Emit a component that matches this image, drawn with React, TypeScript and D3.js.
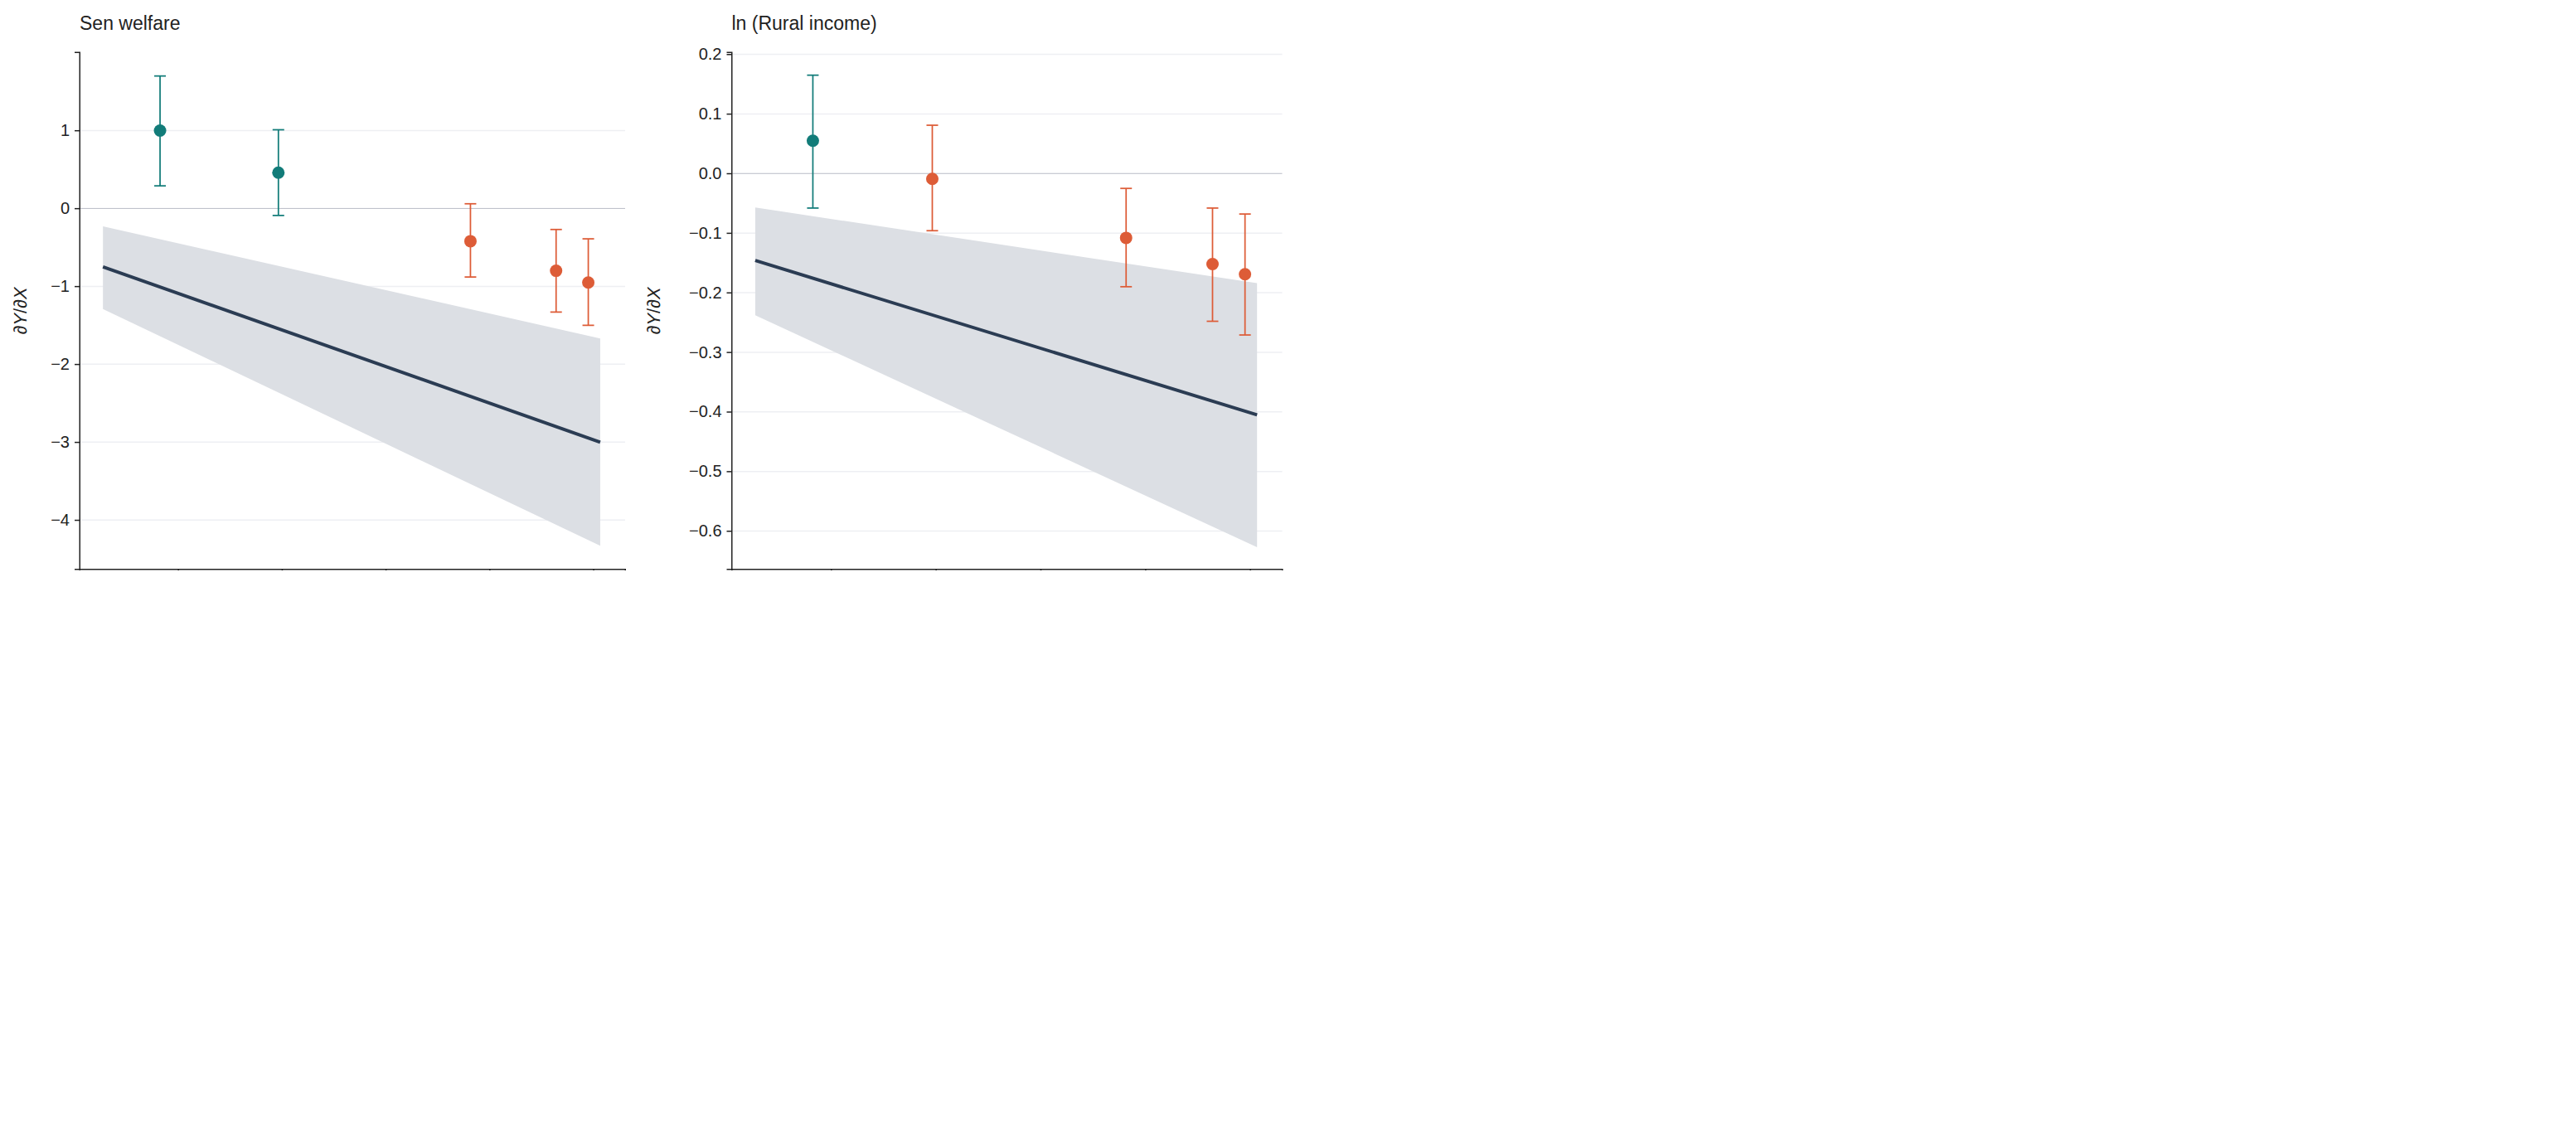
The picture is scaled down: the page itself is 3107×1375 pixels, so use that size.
import { useEffect, useRef } from "react";
import * as d3 from "d3";

// Point estimates per group (x = DFIIC sub-index Q)
const pointX = [36.5, 59.3, 96.3, 112.8, 119.0];

const senValue = [1.0, 0.46, -0.42, -0.8, -0.95];
const senLow = [0.29, -0.09, -0.88, -1.33, -1.5];
const senHigh = [1.7, 1.01, 0.06, -0.27, -0.39];
const senGroup = ["teal", "teal", "orange", "orange", "orange"];

const incValue = [0.055, -0.009, -0.108, -0.152, -0.169];
const incLow = [-0.058, -0.096, -0.19, -0.248, -0.271];
const incHigh = [0.165, 0.081, -0.025, -0.058, -0.068];
const incGroup = ["teal", "orange", "orange", "orange", "orange"];

// Marginal effect line and confidence band
const lineX = [25.5, 121.3];
const senLine = [-0.75, -3.0];
const senBandUp = [-0.23, -1.67];
const senBandLo = [-1.29, -4.33];
const incLine = [-0.146, -0.405];
const incBandUp = [-0.057, -0.184];
const incBandLo = [-0.238, -0.627];

const xTicks = [40, 60, 80, 100, 120];
const senTicks = [1, 0, -1, -2, -3, -4];
const incTicks = [0.2, 0.1, 0, -0.1, -0.2, -0.3, -0.4, -0.5, -0.6];

const colors: Record<string, string> = { teal: "#127c79", orange: "#dd5c37" };
const FONT = "'Liberation Sans', Arial, sans-serif";

interface Panel {
  left: number;
  right: number;
  title: string;
  yDomain: [number, number];
  yTicks: number[];
  fmt: (v: number) => string;
  value: number[];
  low: number[];
  high: number[];
  group: string[];
  line: number[];
  bandUp: number[];
  bandLo: number[];
  labelX: number;
}

export default function App() {
  const ref = useRef<SVGSVGElement>(null);

  useEffect(() => {
    const svg = d3.select(ref.current);
    svg.selectAll("*").remove();
    const top = 126;
    const bottom = 1373;

    const panels: Panel[] = [
      {
        left: 192, right: 1508, title: "Sen welfare", yDomain: [-4.63, 2.005], yTicks: senTicks,
        fmt: (v) => d3.format("d")(v).replace("-", "−"),
        value: senValue, low: senLow, high: senHigh, group: senGroup,
        line: senLine, bandUp: senBandUp, bandLo: senBandLo, labelX: 50,
      },
      {
        left: 1765, right: 3093, title: "ln (Rural income)", yDomain: [-0.664, 0.2035], yTicks: incTicks,
        fmt: (v) => d3.format(".1f")(v).replace("-", "−"),
        value: incValue, low: incLow, high: incHigh, group: incGroup,
        line: incLine, bandUp: incBandUp, bandLo: incBandLo, labelX: 1577,
      },
    ];

    panels.forEach((p) => {
      const x = d3.scaleLinear().domain([21, 126.1]).range([p.left, p.right]);
      const y = d3.scaleLinear().domain(p.yDomain).range([bottom, top]);
      const g = svg.append("g");

      // grid
      g.selectAll(".grid").data(p.yTicks.filter((t) => t !== 0)).enter().append("line")
        .attr("x1", p.left).attr("x2", p.right)
        .attr("y1", (d) => y(d)).attr("y2", (d) => y(d))
        .attr("stroke", "#eeeff3").attr("stroke-width", 3);
      g.append("line").attr("x1", p.left).attr("x2", p.right)
        .attr("y1", y(0)).attr("y2", y(0)).attr("stroke", "#b9bcc6").attr("stroke-width", 2);

      // band
      const area = d3.area<number>()
        .x((_, i) => x(lineX[i]))
        .y0((_, i) => y(p.bandLo[i]))
        .y1((_, i) => y(p.bandUp[i]));
      g.append("path").datum(p.bandUp).attr("d", area).attr("fill", "#dcdfe4");

      const line = d3.line<number>().x((_, i) => x(lineX[i])).y((d) => y(d));
      g.append("path").datum(p.line).attr("d", line)
        .attr("fill", "none").attr("stroke", "#2b3c53").attr("stroke-width", 8);

      // error bars
      pointX.forEach((px, i) => {
        const c = colors[p.group[i]];
        const cx = x(px);
        g.append("line").attr("x1", cx).attr("x2", cx)
          .attr("y1", y(p.low[i])).attr("y2", y(p.high[i]))
          .attr("stroke", c).attr("stroke-width", 3.5);
        [p.low[i], p.high[i]].forEach((v) => {
          g.append("line").attr("x1", cx - 14).attr("x2", cx + 14)
            .attr("y1", y(v)).attr("y2", y(v)).attr("stroke", c).attr("stroke-width", 3.5);
        });
        g.append("circle").attr("cx", cx).attr("cy", y(p.value[i])).attr("r", 15).attr("fill", c);
      });

      // axes
      const xa = g.append("g").attr("transform", `translate(0,${bottom})`)
        .call(d3.axisBottom(x).tickValues(xTicks).tickSize(12).tickPadding(14).tickFormat(d3.format("d")));
      const ya = g.append("g").attr("transform", `translate(${p.left},0)`)
        .call(d3.axisLeft(y).tickValues(p.yTicks).tickSize(12).tickPadding(12)
          .tickFormat((d) => p.fmt(d as number)));
      [xa, ya].forEach((a) => {
        a.select(".domain").attr("stroke", "#222").attr("stroke-width", 3);
        a.selectAll(".tick line").attr("stroke", "#222").attr("stroke-width", 3);
        a.selectAll("text").attr("font-family", FONT).attr("font-size", 40).attr("fill", "#222");
      });

      g.append("text").attr("x", p.left).attr("y", 72).attr("font-family", FONT)
        .attr("font-size", 46).attr("fill", "#222").text(p.title);

      const xl = g.append("text").attr("x", (p.left + p.right) / 2).attr("y", 1535)
        .attr("text-anchor", "middle").attr("font-family", FONT).attr("font-size", 44).attr("fill", "#222");
      xl.append("tspan").text("DFIIC digitisation sub-index ");
      xl.append("tspan").attr("font-style", "italic").text("Q");

      const yl = g.append("text").attr("transform", `translate(${p.labelX + 14},750) rotate(-90)`)
        .attr("text-anchor", "middle").attr("font-family", FONT).attr("font-size", 44).attr("fill", "#222");
      yl.append("tspan").text("∂");
      yl.append("tspan").attr("font-style", "italic").text("Y");
      yl.append("tspan").text("/∂");
      yl.append("tspan").attr("font-style", "italic").text("X");
    });
  }, []);

  return (
    <svg ref={ref} width={1553.5} height={687.5} viewBox="0 0 3107 1375"
      style={{ position: "absolute", left: 0, top: 0, background: "#fff" }} />
  );
}
